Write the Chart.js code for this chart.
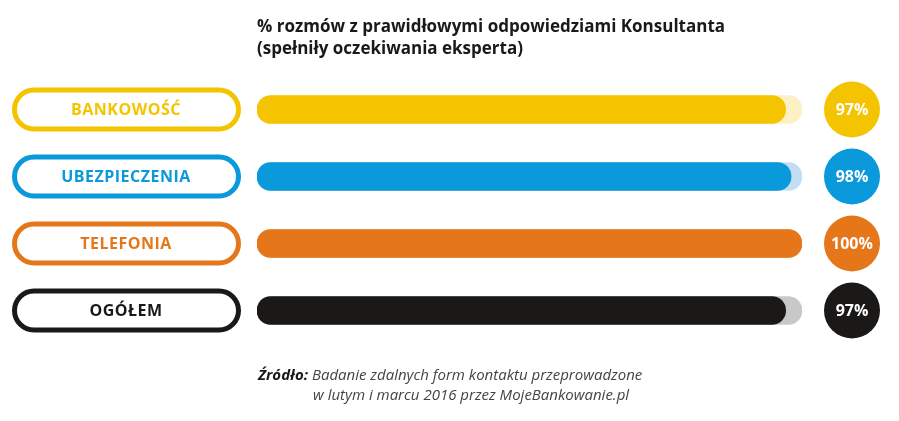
<!DOCTYPE html>
<html>
<head>
<meta charset="utf-8">
<script src="https://cdn.jsdelivr.net/npm/chart.js@4/dist/chart.umd.min.js"></script>
<style>
  html, body { margin: 0; padding: 0; background: #fff; }
  #wrap { width: 899px; height: 421px; position: relative; }
</style>
</head>
<body>
<div id="wrap"><canvas id="chart"></canvas></div>
<script>
const categories = ["BANKOWOŚĆ", "UBEZPIECZENIA", "TELEFONIA", "OGÓŁEM"];
const values = [97, 98, 100, 97];
const fullValues = [100, 100, 100, 100];
const mainColors = ["#f5c400", "#0a99da", "#e5761a", "#1b1818"];
const trackColors = ["#fdf0c4", "#c2def4", "#f3c9a4", "#c8c8c8"];
const valueLabels = ["97%", "98%", "100%", "97%"];

const titleLines = [
  "% rozmów z prawidłowymi odpowiedziami Konsultanta",
  "(spełniły oczekiwania eksperta)"
];

function roundRect(ctx, x, y, w, h, r) {
  ctx.beginPath();
  ctx.moveTo(x + r, y);
  ctx.lineTo(x + w - r, y);
  ctx.arc(x + w - r, y + r, r, -Math.PI / 2, Math.PI / 2);
  ctx.lineTo(x + r, y + h);
  ctx.arc(x + r, y + r, r, Math.PI / 2, Math.PI * 1.5);
  ctx.closePath();
}

// pills on the left, circles on the right, title and source
const decorations = {
  id: "decorations",
  afterDraw(chart) {
    const { ctx, chartArea, scales } = chart;
    ctx.save();
    ctx.textBaseline = "middle";
    ctx.textAlign = "center";
    categories.forEach((cat, i) => {
      const y = scales.y.getPixelForValue(i);
      // pill
      ctx.lineWidth = 5;
      ctx.strokeStyle = mainColors[i];
      ctx.fillStyle = "#fff";
      roundRect(ctx, 14.5, y - 19.5, 224, 39, 19.5);
      ctx.fill();
      ctx.stroke();
      ctx.fillStyle = mainColors[i];
      ctx.font = "bold 16px 'Open Sans'";
      ctx.letterSpacing = "0.5px";
      ctx.fillText(cat, 126, y + 1);
      ctx.letterSpacing = "0px";
      // circle
      const cx = chartArea.right + 50;
      ctx.beginPath();
      ctx.arc(cx, y, 28, 0, Math.PI * 2);
      ctx.fillStyle = mainColors[i];
      ctx.fill();
      ctx.fillStyle = "#fff";
      ctx.font = "bold 16px 'Open Sans'";
      ctx.fillText(valueLabels[i], cx, y + 1);
    });

    // title
    ctx.textAlign = "left";
    ctx.textBaseline = "alphabetic";
    ctx.fillStyle = "#1b1818";
    ctx.font = "bold 17px 'Open Sans'";
    ctx.fillText(titleLines[0], 257, 32);
    ctx.fillText(titleLines[1], 257, 54);

    // source
    ctx.fillStyle = "#1b1818";
    ctx.font = "italic bold 15px 'Open Sans'";
    ctx.fillText("Źródło:", 258, 380);
    const w = ctx.measureText("Źródło: ").width;
    ctx.fillStyle = "#444";
    ctx.font = "italic 15px 'Open Sans'";
    ctx.fillText("Badanie zdalnych form kontaktu przeprowadzone", 258 + w, 380);
    ctx.fillText("w lutym i marcu 2016 przez MojeBankowanie.pl", 313, 400);
    ctx.restore();
  }
};

new Chart(document.getElementById("chart"), {
  type: "bar",
  data: {
    labels: categories,
    datasets: [
      {
        label: "wynik",
        data: values,
        backgroundColor: mainColors,
        grouped: false,
        order: 0
      },
      {
        label: "tło",
        data: fullValues,
        backgroundColor: trackColors,
        grouped: false,
        order: 1
      }
    ]
  },
  options: {
    indexAxis: "y",
    responsive: true,
    maintainAspectRatio: false,
    animation: false,
    layout: { padding: { left: 257, right: 97, top: 76, bottom: 77 } },
    datasets: {
      bar: {
        barThickness: 28,
        borderRadius: 14,
        borderSkipped: false
      }
    },
    scales: {
      x: { min: 0, max: 100, display: false },
      y: { display: false }
    },
    plugins: {
      legend: { display: false },
      tooltip: { enabled: false }
    }
  },
  plugins: [decorations]
});
</script>
</body>
</html>
